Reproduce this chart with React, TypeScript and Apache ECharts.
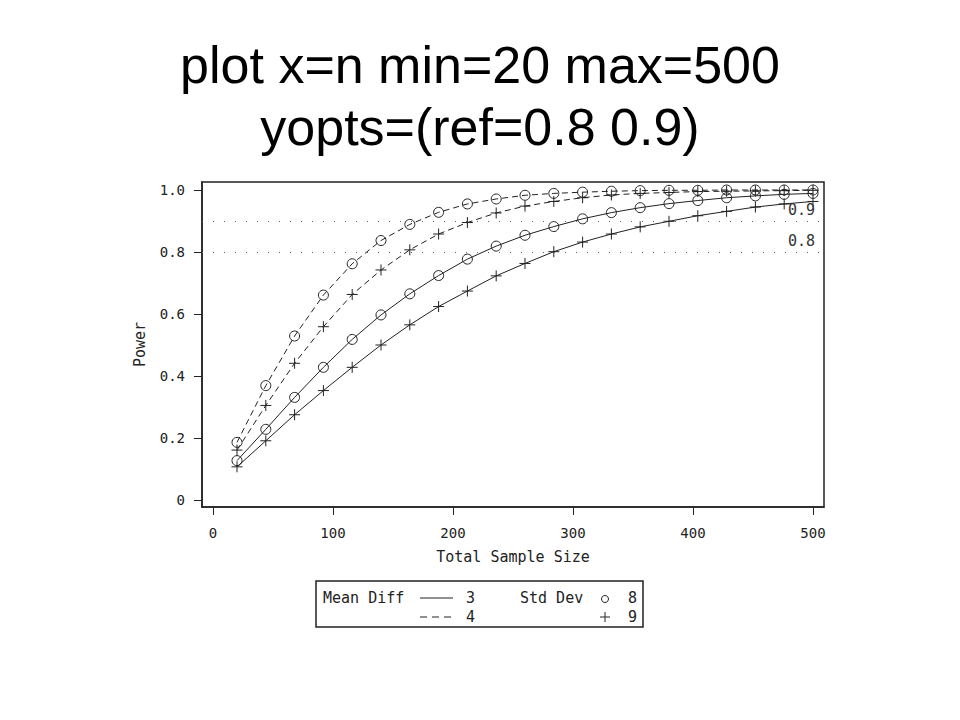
import React, { useEffect, useRef } from "react";
import * as echarts from "echarts";

const titleLines = ["plot x=n min=20 max=500", "yopts=(ref=0.8 0.9)"];
const sampleSizes = [20, 44, 68, 92, 116, 140, 164, 188, 212, 236, 260, 284, 308, 332, 356, 380, 404, 428, 452, 476, 500];
// Mean Diff 4, Std Dev 8 (dashed, circle)
const diff4sd8 = [0.186, 0.369, 0.529, 0.661, 0.762, 0.837, 0.889, 0.928, 0.955, 0.971, 0.983, 0.989, 0.993, 0.996, 0.998, 0.999, 0.999, 1.0, 1.0, 1.0, 1.0];
// Mean Diff 4, Std Dev 9 (dashed, plus)
const diff4sd9 = [0.161, 0.305, 0.441, 0.559, 0.663, 0.742, 0.807, 0.858, 0.895, 0.926, 0.948, 0.963, 0.975, 0.984, 0.989, 0.992, 0.995, 0.996, 0.997, 0.998, 0.999];
// Mean Diff 3, Std Dev 8 (solid, circle)
const diff3sd8 = [0.127, 0.228, 0.331, 0.428, 0.518, 0.597, 0.665, 0.724, 0.777, 0.819, 0.854, 0.882, 0.907, 0.927, 0.943, 0.956, 0.966, 0.975, 0.981, 0.986, 0.989];
// Mean Diff 3, Std Dev 9 (solid, plus)
const diff3sd9 = [0.107, 0.191, 0.275, 0.353, 0.428, 0.500, 0.565, 0.624, 0.674, 0.723, 0.763, 0.801, 0.832, 0.858, 0.881, 0.899, 0.917, 0.931, 0.945, 0.955, 0.963];
const xTicks = [0, 100, 200, 300, 400, 500];
const yTicks = [0, 0.2, 0.4, 0.6, 0.8, 1.0];
const refLines = [0.9, 0.8];

const MONO = "DejaVu Sans Mono";
const INK = "#222";
const PLUS = "path://M-5,0H5M0,-5V5";

function pairs(ys: number[]) {
  return sampleSizes.map((n, i) => [n, ys[i]]);
}

export default function App() {
  const ref = useRef<HTMLDivElement>(null);
  useEffect(() => {
    const chart = echarts.init(ref.current!, null, { renderer: "svg" });
    const mk = (name: string, ys: number[], dashed: boolean, sym: string, size: number) => ({
      name,
      type: "line",
      data: pairs(ys),
      symbol: sym,
      symbolSize: size,
      showSymbol: true,
      lineStyle: { color: INK, width: 1, type: dashed ? [6, 4] : "solid" },
      itemStyle: { color: "none", borderColor: INK, borderWidth: 1 },
      emphasis: { disabled: true },
    });
    const s0: any = mk("d4s8", diff4sd8, true, "circle", 10);
    s0.markLine = {
      silent: true,
      symbol: "none",
      lineStyle: { color: "#666", width: 1, type: [1, 10] },
      label: {
        position: "insideEndTop",
        formatter: (p: any) => p.value.toFixed(1),
        fontFamily: MONO,
        fontSize: 15,
        color: "#333",
        distance: [9, 3],
      },
      data: refLines.map((v) => ({ yAxis: v })),
    };
    const legendFont = `15px ${MONO}`;
    chart.setOption({
      animation: false,
      backgroundColor: "#fff",
      title: {
        text: titleLines.join("\n"),
        left: "center",
        top: 29,
        textStyle: {
          fontFamily: "Liberation Sans",
          fontSize: 52,
          lineHeight: 62,
          fontWeight: "normal",
          color: "#000",
        },
      },
      grid: {
        left: 202,
        top: 182,
        width: 622,
        height: 325,
        show: true,
        borderColor: INK,
        borderWidth: 1.5,
        backgroundColor: "transparent",
      },
      xAxis: {
        type: "value",
        min: -9.17,
        max: 509.17,
        name: "Total Sample Size",
        nameLocation: "middle",
        nameGap: 42,
        nameTextStyle: { fontFamily: MONO, fontSize: 15, color: INK },
        axisLine: { show: true, onZero: false, lineStyle: { color: INK, width: 1.5 } },
        axisTick: { show: true, inside: false, length: 8, customValues: xTicks, lineStyle: { color: INK } },
        axisLabel: { customValues: xTicks, margin: 19, fontFamily: MONO, fontSize: 14, color: INK },
        splitLine: { show: false },
      },
      yAxis: {
        type: "value",
        min: -0.0226,
        max: 1.0258,
        name: "Power",
        nameLocation: "middle",
        nameRotate: 90,
        nameGap: 55,
        nameTextStyle: { fontFamily: MONO, fontSize: 15, color: INK },
        axisLine: { show: true, onZero: false, lineStyle: { color: INK, width: 1.5 } },
        axisTick: { show: true, inside: false, length: 8, customValues: yTicks, lineStyle: { color: INK } },
        axisLabel: {
          customValues: yTicks,
          margin: 17,
          fontFamily: MONO,
          fontSize: 14,
          color: INK,
          formatter: (v: number) => (Math.abs(v) < 1e-9 ? "0" : v.toFixed(1)),
        },
        splitLine: { show: false },
      },
      series: [
        s0,
        mk("d4s9", diff4sd9, true, PLUS, 11),
        mk("d3s8", diff3sd8, false, "circle", 10),
        mk("d3s9", diff3sd9, false, PLUS, 11),
      ],
      graphic: [
        {
          type: "rect",
          shape: { x: 316, y: 581, width: 327, height: 46 },
          style: { fill: "none", stroke: INK, lineWidth: 1.5 },
          silent: true,
        },
        { type: "text", x: 323, y: 598, style: { text: "Mean Diff", font: legendFont, fill: INK, verticalAlign: "middle" } },
        { type: "line", shape: { x1: 420, y1: 598, x2: 453, y2: 598 }, style: { stroke: INK, lineWidth: 1 } },
        { type: "text", x: 466, y: 598, style: { text: "3", font: legendFont, fill: INK, verticalAlign: "middle" } },
        { type: "line", shape: { x1: 420, y1: 617, x2: 453, y2: 617 }, style: { stroke: INK, lineWidth: 1, lineDash: [7, 5] } },
        { type: "text", x: 466, y: 617, style: { text: "4", font: legendFont, fill: INK, verticalAlign: "middle" } },
        { type: "text", x: 520, y: 598, style: { text: "Std Dev", font: legendFont, fill: INK, verticalAlign: "middle" } },
        { type: "circle", shape: { cx: 605, cy: 599, r: 3.5 }, style: { fill: "none", stroke: INK, lineWidth: 1 } },
        { type: "text", x: 628, y: 598, style: { text: "8", font: legendFont, fill: INK, verticalAlign: "middle" } },
        { type: "line", shape: { x1: 600, y1: 617, x2: 610, y2: 617 }, style: { stroke: INK, lineWidth: 1 } },
        { type: "line", shape: { x1: 605, y1: 612, x2: 605, y2: 622 }, style: { stroke: INK, lineWidth: 1 } },
        { type: "text", x: 628, y: 617, style: { text: "9", font: legendFont, fill: INK, verticalAlign: "middle" } },
      ],
    });
    return () => chart.dispose();
  }, []);
  return (
    <div
      ref={ref}
      style={{ position: "fixed", left: 0, top: 0, width: 960, height: 720, background: "#fff" }}
    />
  );
}
